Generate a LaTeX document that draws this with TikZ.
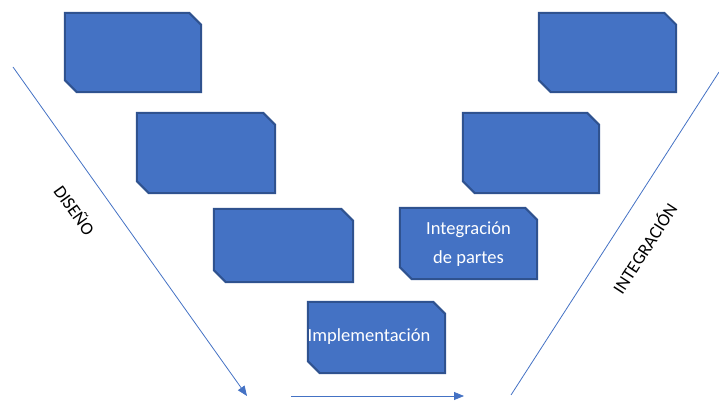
\documentclass[tikz,border=0pt]{standalone}
\usepackage{fontspec}
\setmainfont{Carlito}
\usetikzlibrary{arrows.meta}
\definecolor{boxfill}{HTML}{4472C4}
\definecolor{boxline}{HTML}{2F528F}
\definecolor{flowline}{HTML}{4472C4}
\begin{document}
\begin{tikzpicture}[x=1pt,y=-1pt,
  stagebox/.style={rectangle, minimum width=#1, inner sep=0pt},
  snip/.style={fill=boxfill, draw=boxline, line width=2pt, line join=miter},
  boxtext/.style={text=white, font=\fontsize{18.5}{29}\selectfont, align=center, inner sep=0pt},
  flow/.style={draw=flowline, line width=0.8pt},
  flowarrow/.style={flow, -{Triangle[length=10pt,width=8pt]}},
  phase/.style={font=\fontsize{18}{20}\selectfont}]
\useasboundingbox (0,0) rectangle (719,403);

% box frames (outline runs along the node border)
% design branch (descending)
\node[stagebox=136pt, minimum height=79pt] (b1) at (133,52.5) {};
\node[stagebox=138pt, minimum height=80pt] (b2) at (206,153) {};
\node[stagebox=139pt, minimum height=73pt] (b3) at (283.5,245.5) {};
% bottom of the V
\node[stagebox=137pt, minimum height=71pt] (b4) at (376.5,337.5) {};
% integration branch (ascending)
\node[stagebox=137pt, minimum height=71pt] (b5) at (468.5,243.5) {};
\node[stagebox=136pt, minimum height=80pt] (b6) at (531,153) {};
\node[stagebox=137pt, minimum height=79pt] (b7) at (607.5,52.5) {};

% rectangles with the top-right and bottom-left corners snipped
\foreach \n in {b1,b2,b3,b4,b5,b6,b7}{
  \path[snip] (\n.north west) -- ([xshift=-12pt]\n.north east)
    -- ([yshift=-12pt]\n.north east) -- (\n.south east)
    -- ([xshift=12pt]\n.south west) -- ([yshift=12pt]\n.south west) -- cycle;
}

% box captions
\node[boxtext] (t4) at (369,337) {Implementación};
\node[boxtext] (t5) at ([yshift=-1pt]b5.center) {Integración\\de partes};

% connectors
\coordinate (d0) at (13,67);
\coordinate (d1) at (247,396);
\coordinate (m0) at (291,396);
\coordinate (m1) at (464,396);
\coordinate (i0) at (511,395);
\coordinate (i1) at (719,72);
\draw[flowarrow] (d0) -- (d1);
\draw[flowarrow] (m0) -- (m1);
\draw[flow] (i0) -- (i1);

% phase labels
\node[phase, rotate=-54.5] (lblD) at (75,210) {DISEÑO};
\node[phase, rotate=57] (lblI) at (644,248) {INTEGRACIÓN};
\end{tikzpicture}
\end{document}
